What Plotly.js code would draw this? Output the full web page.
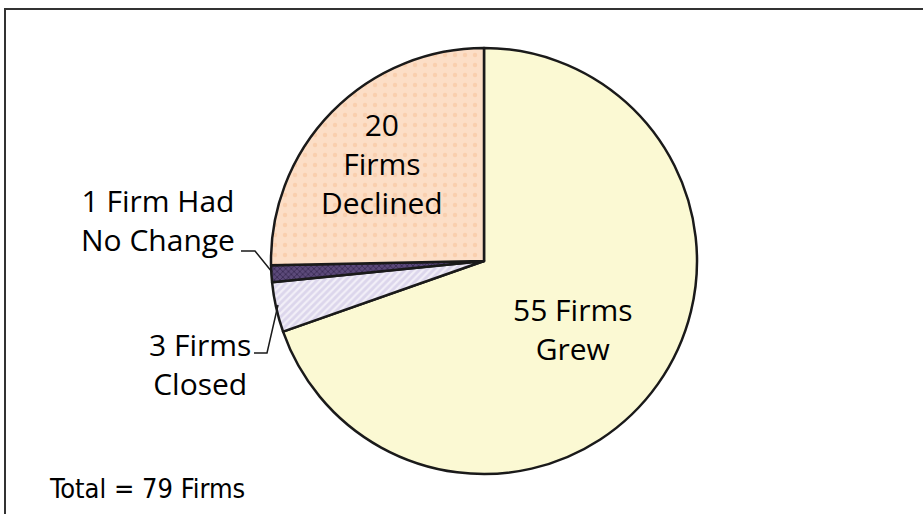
<!DOCTYPE html>
<html><head><meta charset="utf-8">
<script src="https://cdn.plot.ly/plotly-3.0.1.min.js"></script>
<style>html,body{margin:0;padding:0;background:#fff}#chart{width:923px;height:514px}</style>
</head><body><div id="chart"></div>
<script>
var categories = ["55 Firms Grew", "3 Firms Closed", "1 Firm Had No Change", "20 Firms Declined"];
var firmCounts = [55, 3, 1, 20];
var sliceColors = ["#FBF9D3", "#DCD6EC", "#5C4A7A", "#FCDEC6"];
var W = 923, H = 514;
function px(x){return x/W;}
function py(y){return (H-y)/H;}
var trace = {
  type: "pie",
  labels: categories,
  values: firmCounts,
  sort: false,
  direction: "clockwise",
  rotation: 0,
  textinfo: "none",
  hoverinfo: "label+value",
  domain: {x: [px(271), px(697)], y: [py(474), py(48)]},
  marker: {
    colors: sliceColors,
    line: {color: "#1a1a1a", width: 2.5},
    pattern: {
      shape: ["", "/", "x", "."],
      fgcolor: ["#F3EFC0", "#F2EFF8", "#3B2C55", "#F9CFAE"],
      bgcolor: sliceColors,
      size: [8, 5, 4, 10],
      solidity: [0.2, 0.45, 0.4, 0.15],
      fillmode: "replace"
    }
  },
  showlegend: false
};
var font = {family: "Open Sans, Noto Sans, sans-serif", size: 30, color: "#000"};
var ann = [
  {x: px(573), y: py(329), text: "55 Firms<br>Grew"},
  {x: px(382), y: py(163), text: "20<br>Firms<br>Declined"},
  {x: px(158), y: py(220), text: "1 Firm Had<br>No Change"},
  {x: px(200), y: py(364), text: "3 Firms<br>Closed"}
].map(function(a){return Object.assign({xref:"paper", yref:"paper", showarrow:false, font:font, align:"center", xanchor:"center", yanchor:"middle"}, a);});
ann.push({xref:"paper", yref:"paper", x: px(47), y: py(488), text: "Total = 79 Firms", showarrow:false, xanchor:"left", yanchor:"middle",
  font: {family: "Liberation Sans Narrow, DejaVu Sans Condensed, sans-serif", size: 27, color: "#000"}});
var lineStyle = {color: "#1a1a1a", width: 1.5};
var shapes = [
  {type: "rect", xref: "paper", yref: "paper", x0: px(5), y0: py(530), x1: px(935), y1: py(9), line: {color: "#333", width: 2}},
  {type: "path", xref: "paper", yref: "paper", path: "M " + px(241) + " " + py(251) + " L " + px(255) + " " + py(251) + " L " + px(272) + " " + py(272), line: lineStyle},
  {type: "path", xref: "paper", yref: "paper", path: "M " + px(254) + " " + py(353) + " L " + px(267) + " " + py(353) + " L " + px(278) + " " + py(305), line: lineStyle}
];
var layout = {
  width: W, height: H,
  margin: {l: 0, r: 0, t: 0, b: 0},
  paper_bgcolor: "#fff",
  annotations: ann,
  shapes: shapes
};
Plotly.newPlot("chart", [trace], layout, {displayModeBar: false, staticPlot: true});
</script></body></html>
